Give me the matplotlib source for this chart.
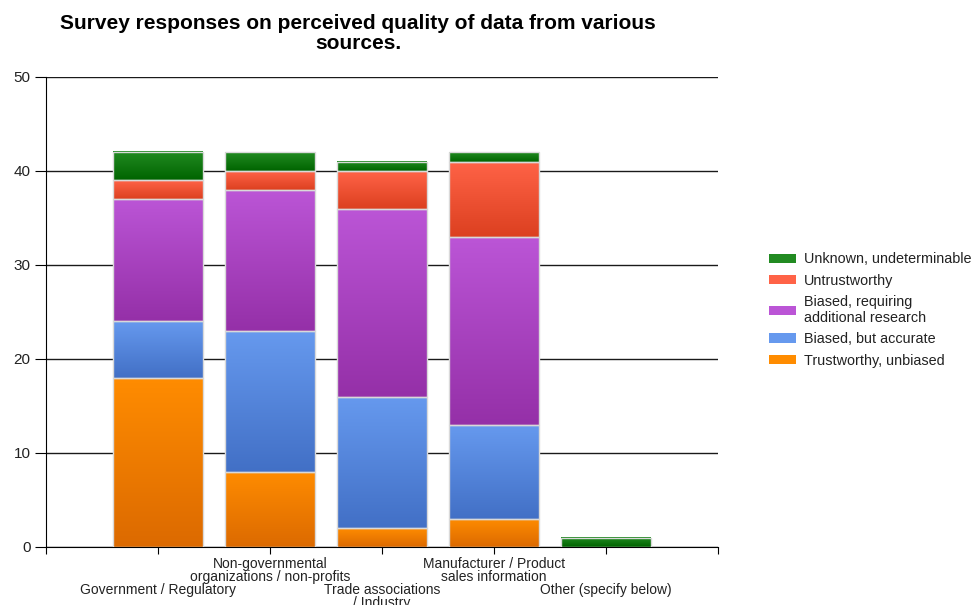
import numpy as np
import matplotlib.pyplot as plt
from matplotlib.colors import to_rgb
from matplotlib.patches import Patch

plt.rcParams['font.family'] = ['Liberation Sans', 'DejaVu Sans']

# Responses per source, one list per answer category
sources = ['Government / Regulatory',
           'Non-governmental\norganizations / non-profits',
           'Trade associations\n/ Industry',
           'Manufacturer / Product\nsales information',
           'Other (specify below)']
trustworthy = [18, 8, 2, 3, 0]
biased_accurate = [6, 15, 14, 10, 0]
biased_research = [13, 15, 20, 20, 0]
untrustworthy = [2, 2, 4, 8, 0]
unknown = [3, 2, 1, 1, 1]

series = [
    ('Trustworthy, unbiased', trustworthy, '#ff8c00', '#dc6a00'),
    ('Biased, but accurate', biased_accurate, '#6699ee', '#4270c6'),
    ('Biased, requiring\nadditional research', biased_research, '#bb55d6', '#9530a8'),
    ('Untrustworthy', untrustworthy, '#ff6347', '#dc4020'),
    ('Unknown, undeterminable', unknown, '#228b22', '#006400'),
]


def gradient(top, bottom, n=64):
    # vertical ramp, row 0 is the bottom of the bar
    t = np.linspace(0, 1, n)[:, None, None]
    return (1 - t) * np.array(to_rgb(bottom)) + t * np.array(to_rgb(top))


fig = plt.figure(figsize=(9.79, 6.05), dpi=100)
ax = fig.add_axes([46 / 979, 1 - 547 / 605, 672 / 979, 470 / 605])

x = np.arange(1, len(sources) + 1)
base = np.zeros(len(sources))
handles = []
for label, vals, top, bottom in series:
    vals = np.array(vals)
    keep = vals > 0
    # solid fill first, gradient image over it, light outline on top
    bars = ax.bar(x[keep], vals[keep], 0.8, bottom=base[keep], color=bottom,
                  linewidth=0, zorder=2)
    for rect in bars:
        x0, y0 = rect.get_x(), rect.get_y()
        ax.imshow(gradient(top, bottom), origin='lower', aspect='auto',
                  interpolation='bilinear', zorder=2.2, clip_path=rect,
                  extent=(x0, x0 + rect.get_width(), y0, y0 + rect.get_height()))
    ax.bar(x[keep], vals[keep], 0.8, bottom=base[keep], color='none',
           edgecolor='#d9d9d9', linewidth=1, zorder=3)
    base += vals
    handles.append(Patch(facecolor=top, edgecolor='none', label=label))

ax.set_xlim(0, 6)
ax.set_ylim(0, 50)
ax.set_yticks(range(0, 51, 10))
ax.yaxis.grid(True, color='#1a1a1a', linewidth=1)
ax.set_axisbelow(True)
ax.set_xticks(range(7))
ax.set_xticklabels([])
ax.tick_params(axis='x', length=5, color='black')
ax.tick_params(axis='y', length=8, pad=3, labelsize=11, color='black', labelcolor='#222222')
for side in ['top', 'right']:
    ax.spines[side].set_visible(False)
for side in ['left', 'bottom']:
    ax.spines[side].set_color('black')

# staggered category labels under the axis
for i, name in enumerate(sources):
    offset = 7 if i % 2 else 26
    ax.annotate(name, xy=(x[i], 0), xycoords=('data', 'axes fraction'),
                xytext=(0, -offset), textcoords='offset points',
                ha='center', va='top', fontsize=10, linespacing=0.9,
                color='#222222')

fig.text(358 / 979, 0.945, 'Survey responses on perceived quality of data from various\nsources.',
         ha='center', va='center', fontsize=15, fontweight='bold', linespacing=1.05)

fig.legend(handles[::-1], [h.get_label() for h in handles[::-1]],
           loc='center left', bbox_to_anchor=(756 / 979, 1 - 310 / 605),
           frameon=False, fontsize=10.4, handlelength=1.9, handleheight=0.65,
           labelspacing=0.5, handletextpad=0.5, labelcolor='#222222')

fig.savefig('out.png', dpi=100)
